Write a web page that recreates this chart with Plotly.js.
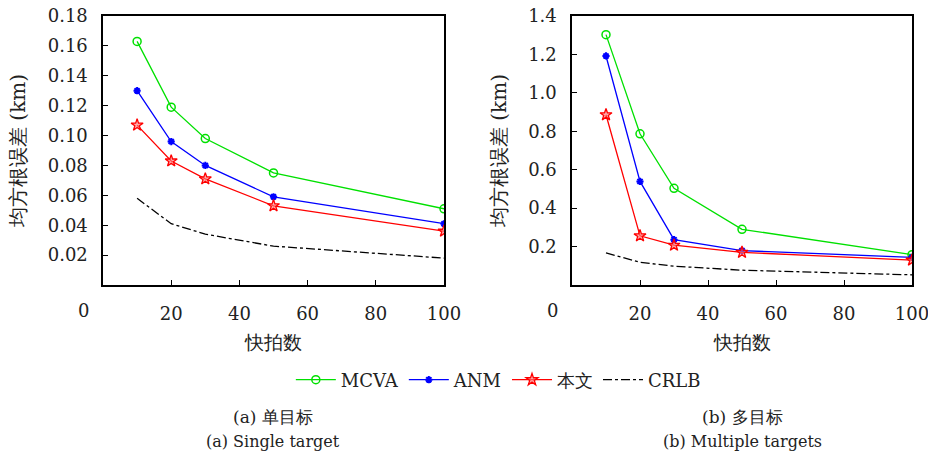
<!DOCTYPE html>
<html><head><meta charset="utf-8">
<script src="https://cdn.plot.ly/plotly-3.0.1.min.js"></script>
<style>html,body{margin:0;padding:0;background:#fff}#c{width:928px;height:457px}</style>
</head><body><div id="c"></div>
<script>
const snapshots = [10, 20, 30, 50, 100];
const xTicks = [20, 40, 60, 80, 100];
// (a) single target
const mcvaA = [0.163, 0.119, 0.098, 0.075, 0.051];
const anmA  = [0.130, 0.096, 0.080, 0.059, 0.041];
const oursA = [0.107, 0.083, 0.071, 0.053, 0.036];
const crlbA = [0.058, 0.041, 0.034, 0.026, 0.018];
// (b) multiple targets
const mcvaB = [1.303, 0.787, 0.503, 0.290, 0.158];
const anmB  = [1.192, 0.539, 0.236, 0.179, 0.144];
const oursB = [0.886, 0.256, 0.207, 0.170, 0.129];
const crlbB = [0.167, 0.118, 0.098, 0.077, 0.053];
const yTicksA = [0.02, 0.04, 0.06, 0.08, 0.10, 0.12, 0.14, 0.16, 0.18];
const yTicksB = [0.2, 0.4, 0.6, 0.8, 1.0, 1.2, 1.4];
const names = ['MCVA', 'ANM', '本文', 'CRLB'];
const captionsZh = ['(a) 单目标', '(b) 多目标'];
const captionsEn = ['(a) Single target', '(b) Multiple targets'];

const FONT = '"DejaVu Serif", serif';
const GREEN = '#00e000', BLUE = '#0000ff', RED = '#ff0000';

function series(ys, xa, ya, show) {
  return [
    {x: snapshots, y: ys[0], xaxis: xa, yaxis: ya, name: names[0], showlegend: show, mode: 'lines+markers',
     line: {color: GREEN, width: 1.3}, marker: {symbol: 'circle-open', size: 8, color: GREEN, line: {width: 1.5, color: GREEN}}},
    {x: snapshots, y: ys[1], xaxis: xa, yaxis: ya, name: names[1], showlegend: show, mode: 'lines+markers',
     line: {color: BLUE, width: 1.3}, marker: {symbol: 'asterisk-open', size: 6, color: BLUE, line: {width: 2, color: BLUE}}},
    {x: snapshots, y: ys[2], xaxis: xa, yaxis: ya, name: names[2], showlegend: show, mode: 'lines+markers',
     line: {color: RED, width: 1.3}, marker: {symbol: 'star', size: 9, color: 'rgba(255,120,120,0.6)', line: {width: 1.3, color: RED}}},
    {x: snapshots, y: ys[3], xaxis: xa, yaxis: ya, name: names[3], showlegend: show, mode: 'lines',
     line: {color: '#000', width: 1.3, dash: 'dashdot'}}
  ];
}

const data = [
  ...series([mcvaA, anmA, oursA, crlbA], 'x', 'y', true),
  ...series([mcvaB, anmB, oursB, crlbB], 'x2', 'y2', false)
];

function xax(domain, anchor) {
  return {domain: domain, anchor: anchor, range: [0, 100], tickvals: xTicks, ticktext: xTicks.map(String),
    ticks: 'inside', ticklen: 5, tickwidth: 1, tickcolor: '#000', showline: true, mirror: true,
    linecolor: '#000', linewidth: 1.6, showgrid: false, zeroline: false, ticklabelstandoff: 12,
    ticklabeloverflow: 'allow',
    tickfont: {family: FONT, size: 18, color: '#222'},
    title: {text: '快拍数', font: {family: FONT, size: 19, color: '#222'}, standoff: 12}};
}
function yax(domain, anchor, range, vals, fmt, standoff) {
  return {domain: domain, anchor: anchor, range: range, tickvals: vals, ticktext: vals.map(v => v.toFixed(fmt)),
    ticks: 'inside', ticklen: 5, tickwidth: 1, tickcolor: '#000', showline: true, mirror: true,
    linecolor: '#000', linewidth: 1.6, showgrid: false, zeroline: false, ticklabelstandoff: 10,
    ticklabeloverflow: 'allow',
    tickfont: {family: FONT, size: 18, color: '#222'},
    title: {text: '均方根误差 (km)', font: {family: FONT, size: 20, color: '#222'}, standoff: standoff}};
}

function ann(text, x, y, size) {
  return {text: text, xref: 'paper', yref: 'paper', x: x / 928, y: 1 - y / 457, showarrow: false,
    font: {family: FONT, size: size, color: '#222'}, xanchor: 'center', yanchor: 'middle'};
}

const yd = [1 - 285 / 457, 1 - 16 / 457];
const layout = {
  width: 928, height: 457, margin: {l: 0, r: 0, t: 0, b: 0},
  paper_bgcolor: '#fff', plot_bgcolor: '#fff', font: {family: FONT, color: '#222'},
  xaxis: xax([103 / 928, 444 / 928], 'y'),
  yaxis: yax(yd, 'x', [0, 0.18], yTicksA, 2, 17),
  xaxis2: xax([572 / 928, 912 / 928], 'y2'),
  yaxis2: yax(yd, 'x2', [0, 1.4], yTicksB, 1, 16),
  showlegend: true,
  legend: {orientation: 'h', x: 0.537, xanchor: 'center', y: 1 - 380 / 457, yanchor: 'middle',
    font: {family: FONT, size: 18, color: '#222'}, itemwidth: 40, tracegroupgap: 0, bgcolor: 'rgba(0,0,0,0)'},
  annotations: [
    ann('0', 83, 310, 18),
    ann('0', 552, 310, 18),
    ann(captionsZh[0], 273, 417, 17),
    ann(captionsEn[0], 273, 441, 16),
    ann(captionsZh[1], 742, 417, 17),
    ann(captionsEn[1], 742, 441, 16)
  ]
};
Plotly.newPlot('c', data, layout, {staticPlot: true});
</script></body></html>
